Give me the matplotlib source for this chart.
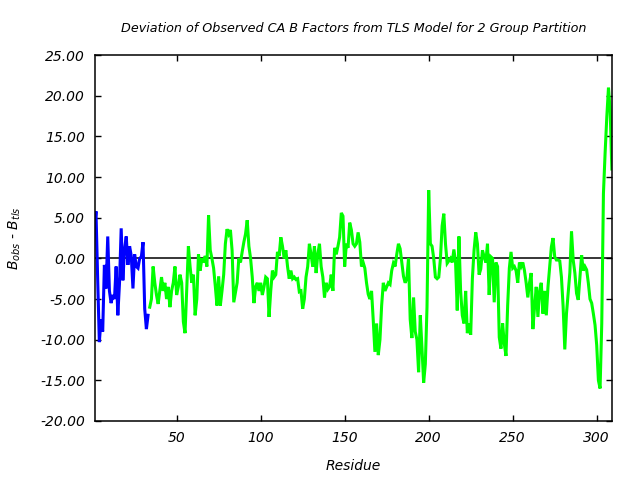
import numpy as np
import matplotlib
matplotlib.use('Agg')
import matplotlib.pyplot as plt

# group 1 (blue), residues 1-33
blue_res_start = 1
blue_vals = [3.5, 5.8, -2.5, -10.3, -7.5, -9.0, -0.8, -3.7, 2.7, -4.0,
             -5.5, -4.5, -5.0, -1.0, -7.0, -3.0, 3.7, -2.7, 1.1, 2.7,
             -0.8, 1.5, 0.3, -3.7, 0.5, -1.0, -1.2, 0.0, 0.2, 2.0,
             -6.2, -8.7, -7.0]

# group 2 (green), residues 34-309
green_res_start = 34
green_vals = [-6.0, -5.0, -1.0, -3.0, -4.5, -5.6, -4.0, -2.3, -4.0, -3.0,
              -5.0, -3.5, -6.0, -4.0, -3.0, -1.0, -4.5, -3.5, -2.0, -3.0,
              -7.8, -9.2, -4.0, 1.5, -1.0, -3.0, -2.0, -7.0, -5.0, 0.5,
              -1.5, 0.0, -0.5, 0.3, -1.0, 5.3, 1.0, 0.0, -1.2, -3.4,
              -5.8, -2.2, -5.8, -4.0, -2.0, 1.8, 3.6, 3.0, 3.5, 1.0,
              -5.4, -4.2, -3.0, 0.0, -0.5, 0.8, 2.0, 3.0, 4.7, 1.5,
              0.0, -2.3, -5.5, -3.5, -3.0, -4.0, -3.0, -4.5, -3.5, -2.3,
              -2.5, -7.2, -4.0, -1.5, -2.3, -2.0, 0.8, 0.3, 2.6, 1.5,
              0.0, 1.0, -1.0, -2.5, -1.5, -2.5, -2.3, -2.6, -2.5, -4.1,
              -4.0, -6.2, -5.0, -2.3, -1.0, 1.8, 0.5, -1.0, 1.5, -1.8,
              0.5, 1.8, -1.0, -2.3, -4.8, -3.0, -3.8, -3.5, -2.0, -4.0,
              1.3, 0.5, 1.5, 2.6, 5.6, 5.2, -1.0, 1.8, 1.3, 4.4,
              3.5, 1.8, 1.5, 1.8, 3.2, 2.0, -1.0, -0.5, -1.2, -3.0,
              -4.4, -5.0, -4.0, -7.6, -11.5, -8.0, -11.9, -10.0, -5.8, -3.0,
              -4.0, -3.5, -3.0, -3.2, -1.5, -0.6, -1.0, 0.5, 1.8, 1.2,
              -0.5, -2.2, -3.0, -2.5, 0.0, -7.5, -9.8, -4.8, -9.0, -10.0,
              -14.0, -7.0, -11.0, -15.3, -13.0, -6.0, 8.4, 1.8, 1.5, 0.0,
              -2.3, -2.5, -2.3, 0.0, 4.0, 5.5, 1.8, -0.6, -0.3, 0.0,
              -0.5, 1.1, -0.5, -6.4, 2.7, -4.0, -7.0, -8.0, -4.0, -9.2,
              -8.0, -9.4, -2.5, 1.0, 3.2, 1.8, -2.0, -1.3, 1.0, 0.2,
              -0.5, 1.8, -4.5, 0.2, 0.0, -5.4, -0.5, -1.0, -9.7, -11.1,
              -8.0, -10.5, -12.0, -5.8, -1.2, 0.8, -1.2, -1.0, -1.5, -3.0,
              -0.5, -1.0, -0.5, -1.5, -3.0, -4.8, -3.0, -1.8, -8.7, -6.0,
              -3.5, -7.2, -4.0, -3.0, -6.8, -4.0, -7.0, -3.5, -1.0, 1.4,
              2.5, 0.2, -0.2, -0.2, -0.3, -2.3, -5.9, -11.2, -6.8, -4.3,
              -1.8, 3.3, -0.2, -1.8, -4.3, -5.1, -2.3, 0.4, -1.5, -1.0,
              -1.4, -3.0, -5.0, -5.5, -6.8, -8.2, -10.7, -15.0, -16.0, -8.0,
              8.0, 13.0, 17.4, 21.0, 18.2, 11.0]

x_ticks = [50, 100, 150, 200, 250, 300]
y_ticks = [-20, -15, -10, -5, 0, 5, 10, 15, 20, 25]

blue_res = np.arange(blue_res_start, blue_res_start + len(blue_vals))
green_res = np.arange(green_res_start, green_res_start + len(green_vals))

fig = plt.figure(figsize=(6.4, 4.8), dpi=100)
ax = fig.add_axes([0.148, 0.123, 0.808, 0.762])

ax.axhline(0, color='black', linewidth=1.1, zorder=1)
ax.plot(blue_res, blue_vals, color='#0000ff', linewidth=2.2,
        solid_joinstyle='miter', zorder=2)
ax.plot(green_res, green_vals, color='#00ff00', linewidth=2.2,
        solid_joinstyle='miter', zorder=2)

ax.set_xlim(1.25, 309)
ax.set_ylim(-20, 25)
ax.set_xticks(x_ticks)
ax.set_yticks(y_ticks)
ax.set_xticklabels([str(t) for t in x_ticks], fontstyle='italic', fontsize=10)
ax.set_yticklabels(['%.2f' % t for t in y_ticks], fontstyle='italic', fontsize=10)
ax.tick_params(direction='in', top=True, right=True, length=4, width=1, pad=7)
for sp in ax.spines.values():
  sp.set_linewidth(1.1)

ax.set_xlabel('Residue', fontstyle='italic', fontsize=10, labelpad=10)
ax.set_ylabel(r'$B_{obs}$ - $B_{tls}$', fontstyle='italic', fontsize=10, labelpad=12)
ax.set_title('Deviation of Observed CA B Factors from TLS Model for 2 Group Partition',
             fontstyle='italic', fontsize=9.2, pad=17)

fig.savefig('out.png', dpi=100)
